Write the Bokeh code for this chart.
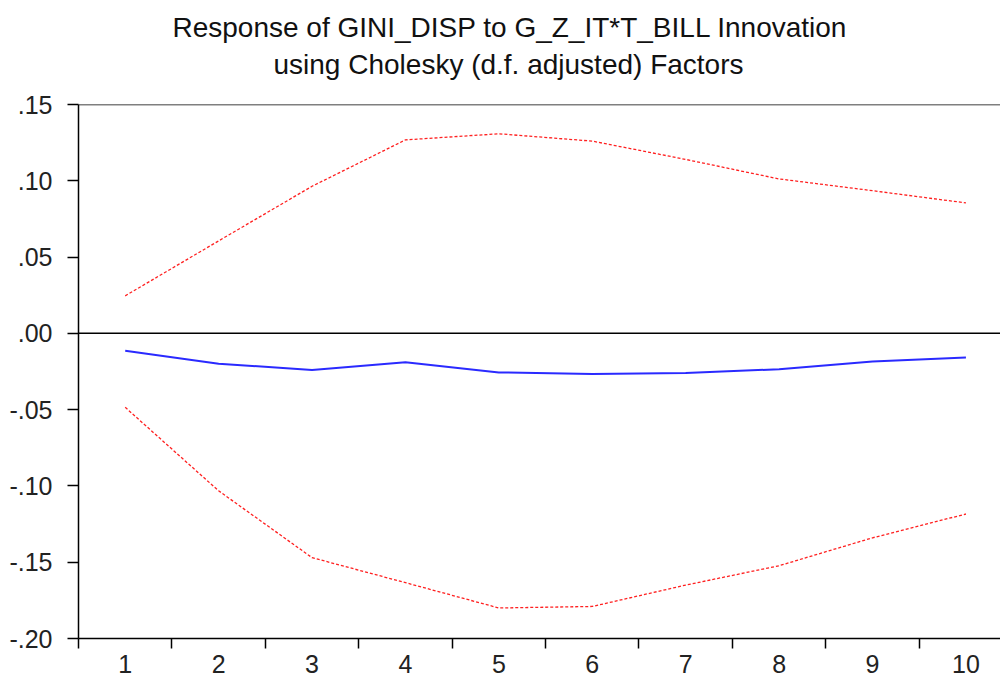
from bokeh.plotting import figure
from bokeh.models import FixedTicker, Span, Title, Range1d
from bokeh.embed import file_html
from bokeh.resources import INLINE

periods = [1, 2, 3, 4, 5, 6, 7, 8, 9, 10]
response = [-0.0114, -0.0199, -0.0240, -0.0190, -0.0256, -0.0267, -0.0260, -0.0235, -0.0185, -0.0158]
upper_band = [0.0246, 0.0606, 0.0964, 0.1268, 0.1308, 0.1260, 0.1140, 0.1012, 0.0935, 0.0855]
lower_band = [-0.0485, -0.1032, -0.1470, -0.1634, -0.1800, -0.1790, -0.1650, -0.1523, -0.1340, -0.1184]
y_ticks = [-0.20, -0.15, -0.10, -0.05, 0.00, 0.05, 0.10, 0.15]
y_tick_labels = ["-.20", "-.15", "-.10", "-.05", ".00", ".05", ".10", ".15"]
title_line1 = "Response of GINI_DISP to G_Z_IT*T_BILL Innovation"
title_line2 = "using Cholesky (d.f. adjusted) Factors"

FONT = "Liberation Sans"

p = figure(frame_width=922, frame_height=534, output_backend="svg", toolbar_location=None,
           min_border_left=78, min_border_right=0, min_border_top=104, min_border_bottom=40,
           x_range=Range1d(0.5, 10.37), y_range=Range1d(-0.20, 0.15))

# spacer between frame and the second title line
p.add_layout(Title(text=" ", align="center", text_font=FONT, text_font_size="1px",
                   standoff=22, offset=0), "above")
p.add_layout(Title(text=title_line2, align="left", text_font=FONT, text_font_size="28px",
                   text_font_style="normal", text_color="#111111", standoff=0, offset=195), "above")
p.add_layout(Title(text=title_line1, align="left", text_font=FONT, text_font_size="28px",
                   text_font_style="normal", text_color="#111111", standoff=7, offset=94), "above")

p.background_fill_color = "white"
p.border_fill_color = "white"
p.outline_line_color = None
p.xgrid.visible = False
p.ygrid.visible = False

# x axis
p.xaxis.ticker = FixedTicker(ticks=periods, minor_ticks=[i + 0.5 for i in range(0, 11)])
p.xaxis.major_tick_out = 0
p.xaxis.major_tick_in = 0
p.xaxis.minor_tick_out = 10
p.xaxis.minor_tick_in = 0
p.xaxis.minor_tick_line_color = "black"
p.xaxis.minor_tick_line_width = 1.5
p.xaxis.axis_line_color = "black"
p.xaxis.axis_line_width = 1.5
p.xaxis.major_label_text_font = FONT
p.xaxis.major_label_text_font_size = "25px"
p.xaxis.major_label_text_color = "#222222"
p.xaxis.major_label_standoff = 6

# y axis
p.yaxis.ticker = FixedTicker(ticks=y_ticks)
p.yaxis.major_label_overrides = {t: l for t, l in zip(y_ticks, y_tick_labels)}
p.yaxis.major_tick_out = 11
p.yaxis.major_tick_in = 0
p.yaxis.major_tick_line_width = 1.5
p.yaxis.minor_tick_out = 0
p.yaxis.minor_tick_in = 0
p.yaxis.axis_line_color = "black"
p.yaxis.axis_line_width = 1.5
p.yaxis.major_label_text_font = FONT
p.yaxis.major_label_text_font_size = "25px"
p.yaxis.major_label_text_color = "#222222"
p.yaxis.major_label_standoff = 15

p.add_layout(Span(location=0.15, dimension="width", line_color="black", line_width=1.5))
p.add_layout(Span(location=0.0, dimension="width", line_color="black", line_width=1.5))

p.line(periods, upper_band, line_color="#ff2020", line_width=1.3, line_dash="3 2")
p.line(periods, lower_band, line_color="#ff2020", line_width=1.3, line_dash="3 2")
p.line(periods, response, line_color="#2a2aff", line_width=2)

open("out.html", "w").write(file_html(p, INLINE))
